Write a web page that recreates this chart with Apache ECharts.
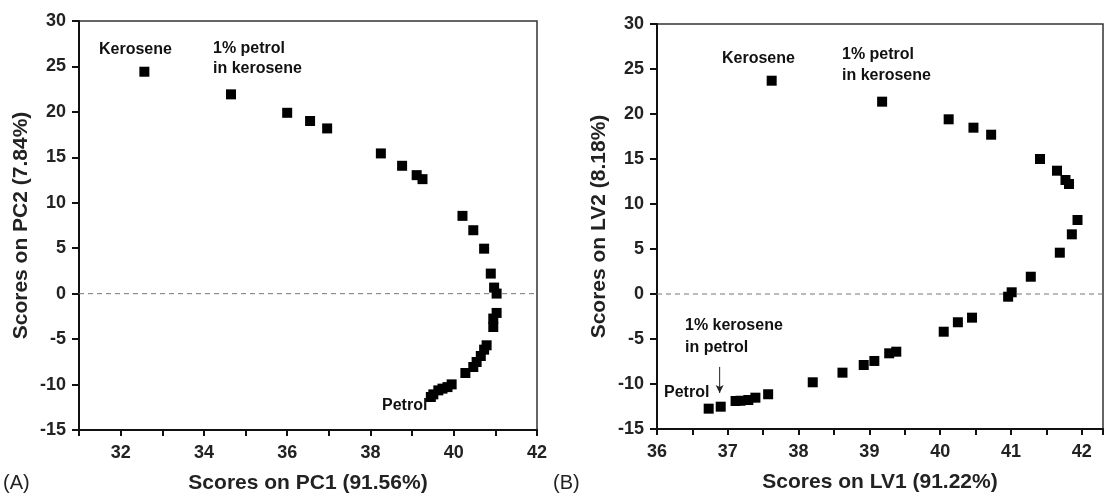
<!DOCTYPE html>
<html>
<head>
<meta charset="utf-8">
<script src="https://cdn.jsdelivr.net/npm/echarts@6/dist/echarts.min.js"></script>
<style>
  body { margin: 0; background: #fff; }
  #main { width: 1104px; height: 494px; }
</style>
</head>
<body>
<div id="main"></div>
<script>
// (A) PCA scores
var pc1 = [32.57, 34.65, 36.0, 36.55, 36.96, 38.25, 38.76, 39.11, 39.25, 40.21, 40.47, 40.73, 40.89, 40.97, 41.03,
  41.03, 40.95, 40.95, 40.79, 40.73, 40.65, 40.55, 40.47, 40.28, 39.95, 39.85, 39.73, 39.63, 39.51, 39.45];
var pc2 = [24.42, 21.93, 19.9, 19.0, 18.18, 15.43, 14.07, 13.04, 12.6, 8.56, 6.98, 4.95, 2.21, 0.67, 0.01,
  -2.12, -2.74, -3.67, -5.68, -6.16, -6.86, -7.52, -8.07, -8.73, -9.98, -10.28, -10.45, -10.64, -11.08, -11.37];

// (B) PLS scores
var lv1 = [37.62, 39.18, 40.12, 40.47, 40.72, 41.41, 41.65, 41.77, 41.82, 41.94, 41.86, 41.69, 41.28, 41.01, 40.96,
  40.45, 40.25, 40.05, 39.38, 39.28, 39.07, 38.92, 38.62, 38.2, 37.57, 37.39, 37.29, 37.18, 37.11, 36.9, 36.73];
var lv2 = [23.7, 21.37, 19.41, 18.48, 17.7, 15.0, 13.7, 12.67, 12.22, 8.22, 6.63, 4.59, 1.92, 0.19, -0.3,
  -2.63, -3.14, -4.19, -6.41, -6.59, -7.44, -7.89, -8.74, -9.81, -11.14, -11.52, -11.78, -11.86, -11.89, -12.52, -12.74];

var rangeA = [31, 42];
var rangeB = [36, 42.3];
var ticksA = [32, 34, 36, 38, 40, 42];
var ticksB = [36, 37, 38, 39, 40, 41, 42];

// arrow pointing at the 1% kerosene sample in (B)
var arrowX = [36.885, 36.885];
var arrowY = [-8.1, -11.0];

var FONT = '"Liberation Sans", Arial, sans-serif';
var INK = '#111';

function zip(a, b) {
  var out = [];
  for (var i = 0; i < a.length; i++) out.push([a[i], b[i]]);
  return out;
}

function showOnly(list) {
  return function (v) {
    for (var i = 0; i < list.length; i++) if (Math.abs(list[i] - v) < 1e-6) return String(list[i]);
    return '';
  };
}

var nameStyle = { fontFamily: FONT, fontWeight: 'bold', fontSize: 21, color: '#222' };

function xAxisOf(grid, range, step, name, labels) {
  return {
    type: 'value', gridIndex: grid, min: range[0], max: range[1], interval: step,
    name: name, nameLocation: 'middle', nameGap: 43, nameTextStyle: nameStyle,
    axisLine: { show: true, onZero: false, lineStyle: { color: INK, width: 2 } },
    axisTick: { show: true, inside: false, length: 6, lineStyle: { color: INK, width: 2 } },
    axisLabel: {
      show: true, margin: 14, formatter: showOnly(labels),
      fontFamily: FONT, fontWeight: 'bold', fontSize: 18, color: '#222'
    },
    splitLine: { show: false }
  };
}

function yAxisOf(grid, name) {
  return {
    type: 'value', gridIndex: grid, min: -15, max: 30, interval: 5,
    name: name, nameLocation: 'middle', nameGap: 47, nameRotate: 90, nameTextStyle: nameStyle,
    axisLine: { show: true, onZero: false, lineStyle: { color: INK, width: 2 } },
    axisTick: { show: true, inside: false, length: 7, lineStyle: { color: INK, width: 2 } },
    axisLabel: { show: true, margin: 13, fontFamily: FONT, fontWeight: 'bold', fontSize: 18, color: '#222' },
    splitLine: { show: false }
  };
}

function note(text, left, top, lh) {
  return {
    text: text, left: left, top: top, padding: 0,
    textStyle: { fontFamily: FONT, fontWeight: 'bold', fontSize: 16, lineHeight: lh || 20, color: '#111' }
  };
}

function panel(text, left) {
  return {
    text: text, left: left, top: 473, padding: 0,
    textStyle: { fontFamily: FONT, fontWeight: 'normal', fontSize: 20, color: '#222' }
  };
}

function zeroSeries(x, y, range) {
  return {
    type: 'line', xAxisIndex: x, yAxisIndex: y, silent: true, showSymbol: false, z: 1,
    lineStyle: { color: '#777', type: [5, 4], width: 1 },
    data: [[range[0], 0], [range[1], 0]]
  };
}

var chart = echarts.init(document.getElementById('main'));
chart.setOption({
  animation: false,
  backgroundColor: '#fff',
  title: [
    note('Kerosene', 99, 40),
    note('1% petrol\nin kerosene', 213, 39),
    note('Petrol', 382, 396),
    note('Kerosene', 722, 49),
    note('1% petrol\nin kerosene', 842, 44, 21),
    note('1% kerosene\nin petrol', 685, 315, 22),
    note('Petrol', 664, 383),
    panel('(A)', 3),
    panel('(B)', 553)
  ],
  grid: [
    { left: 79, top: 21, width: 458, height: 409, outerBoundsMode: 'none',
      show: true, borderColor: '#333', borderWidth: 1.5 },
    { left: 657, top: 24, width: 446, height: 405, outerBoundsMode: 'none',
      show: true, borderColor: '#333', borderWidth: 1.5 }
  ],
  xAxis: [
    xAxisOf(0, rangeA, 1, 'Scores on PC1 (91.56%)', ticksA),
    xAxisOf(1, rangeB, 0.5, 'Scores on LV1 (91.22%)', ticksB)
  ],
  yAxis: [
    yAxisOf(0, 'Scores on PC2 (7.84%)'),
    yAxisOf(1, 'Scores on LV2 (8.18%)')
  ],
  series: [
    zeroSeries(0, 0, rangeA),
    zeroSeries(1, 1, rangeB),
    {
      type: 'scatter', xAxisIndex: 0, yAxisIndex: 0,
      symbol: 'rect', symbolSize: 10, itemStyle: { color: '#000', opacity: 1 },
      data: zip(pc1, pc2)
    },
    {
      type: 'scatter', xAxisIndex: 1, yAxisIndex: 1,
      symbol: 'rect', symbolSize: 10, itemStyle: { color: '#000', opacity: 1 },
      data: zip(lv1, lv2)
    },
    {
      type: 'line', xAxisIndex: 1, yAxisIndex: 1, silent: true, showSymbol: true,
      lineStyle: { color: '#222', width: 1 }, itemStyle: { color: '#222' },
      data: [
        { value: [arrowX[0], arrowY[0]], symbol: 'none' },
        { value: [arrowX[1], arrowY[1]], symbol: 'arrow', symbolSize: [6, 8], symbolRotate: 180 }
      ]
    }
  ]
});

// paint everything now rather than on the next frame
var zr = chart.getZr();
zr.storage.getDisplayList(true);
zr.refreshImmediately();
</script>
</body>
</html>
